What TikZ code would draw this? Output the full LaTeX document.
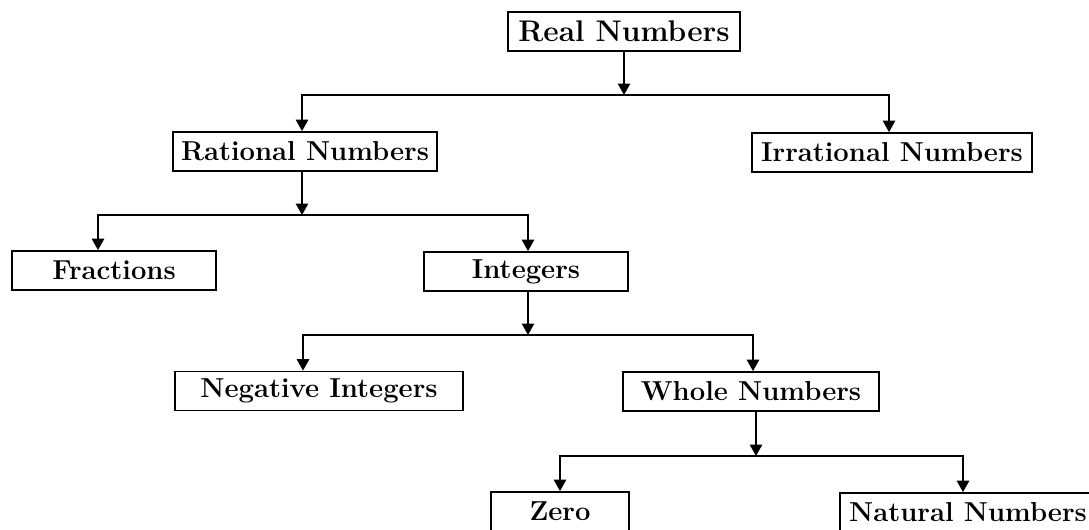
\documentclass[tikz,border=0pt]{standalone}
\usepackage{tikz}
\usetikzlibrary{arrows.meta}

\tikzset{
  numbox/.style={draw, line width=1pt, inner sep=0pt, minimum height=0.78cm,
    font=\fontsize{15.6}{18}\selectfont\bfseries},
  arr/.style={line width=1pt, -{Triangle[width=7pt,length=6.5pt]}}
}

\begin{document}
\begin{tikzpicture}[x=0.02cm,y=-0.02cm]
        \useasboundingbox (0,0) rectangle (1089,529);

        % boxes
        \node[numbox, minimum width=4.64cm, font=\fontsize{17}{20}\selectfont\bfseries] (real) at (624,31.5) {Real Numbers};
        \node[numbox, minimum width=5.28cm] (rational) at (305,151.5) {Rational Numbers};
        \node[numbox, minimum width=5.6cm] (irrational) at (892,152.5) {Irrational Numbers};
        \node[numbox, minimum width=4.08cm] (fractions) at (114,270.5) {Fractions};
        \node[numbox, minimum width=4.08cm] (integers) at (526,271.5) {Integers};
        \node[numbox, minimum width=5.76cm] (negative) at (319,391) {Negative Integers};
        \node[numbox, minimum width=5.12cm] (whole) at (751,391.5) {Whole Numbers};
        \node[numbox, minimum width=2.76cm] (zero) at (560,511.5) {Zero};
        \node[numbox, minimum width=5.12cm] (natural) at (968,512.5) {Natural Numbers};

        % branch points
        \coordinate (jreal) at (624,95);
        \coordinate (jrational) at (302,215);
        \coordinate (jintegers) at (528,335);
        \coordinate (jwhole) at (756,456);

        % connectors
        \draw[arr] (real.south) -- (jreal);
        \draw[arr] (jreal) -| ([xshift=-0.06cm]rational.north);
        \draw[arr] (jreal) -| ([xshift=-0.06cm]irrational.north);

        \draw[arr] ([xshift=-0.06cm]rational.south) -- (jrational);
        \draw[arr] (jrational) -| ([xshift=-0.32cm]fractions.north);
        \draw[arr] (jrational) -| ([xshift=0.04cm]integers.north);

        \draw[arr] ([xshift=0.04cm]integers.south) -- (jintegers);
        \draw[arr] (jintegers) -| ([xshift=-0.32cm]negative.north);
        \draw[arr] (jintegers) -| ([xshift=0.04cm]whole.north);

        \draw[arr] ([xshift=0.1cm]whole.south) -- (jwhole);
        \draw[arr] (jwhole) -| (zero.north);
        \draw[arr] (jwhole) -| ([xshift=-0.1cm]natural.north);
\end{tikzpicture}
\end{document}
